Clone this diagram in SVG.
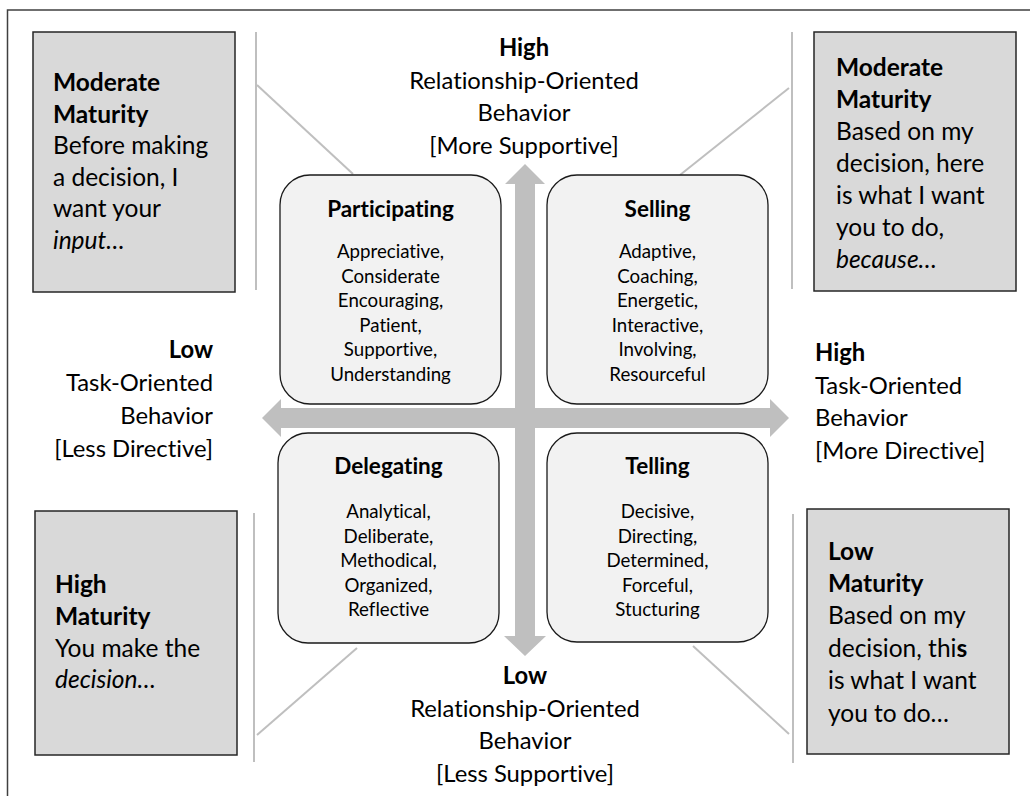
<svg xmlns="http://www.w3.org/2000/svg" width="1030" height="796" viewBox="0 0 1030 796">
<style>
text{font-family:Lato,"Liberation Sans",sans-serif;fill:#000;font-variant-ligatures:none;font-feature-settings:"liga" 0,"clig" 0}
.corner{font-size:24.5px}
.lbl{font-size:23.8px}
.qt{font-size:22.5px;font-weight:bold;text-anchor:middle}
.qb{font-size:18.7px;text-anchor:middle}
.b{font-weight:bold}
.i{font-style:italic}
.cbox{fill:#d9d9d9;stroke:#262626;stroke-width:1.5}
.qbox{fill:#f2f2f2;stroke:#1a1a1a;stroke-width:1.3}
.ln{stroke:#bfbfbf;stroke-width:2;fill:none}
.arr{fill:#bfbfbf;stroke:none}
</style>
<rect x="7.5" y="10" width="1040" height="800" fill="#fff" stroke="#404040" stroke-width="1.5"/>

<g id="connectors">
<line class="ln" x1="256" y1="32" x2="256" y2="290"/>
<line class="ln" x1="257" y1="85" x2="353" y2="174"/>
<line class="ln" x1="792" y1="32" x2="792" y2="289"/>
<line class="ln" x1="789" y1="88" x2="680" y2="175"/>
<line class="ln" x1="254" y1="513" x2="254" y2="762"/>
<line class="ln" x1="257" y1="735" x2="357" y2="648"/>
<line class="ln" x1="793" y1="514" x2="793" y2="763"/>
<line class="ln" x1="693" y1="646" x2="789" y2="734"/>
<polygon class="arr" points="525,164 545,184 535,184 535,636 546,636 525,656 504,636 515,636 515,184 505,184"/>
<polygon class="arr" points="262,418 281,399 281,408 770,408 770,399 789,418 770,437 770,428 281,428 281,437"/>
</g>

<g id="corner-tl">
<rect class="cbox" x="33" y="32" width="202" height="260"/>
<text class="corner" x="53"><tspan class="b" y="91">Moderate</tspan><tspan class="b" x="53" y="122.5">Maturity</tspan><tspan x="53" y="154">Before making</tspan><tspan x="53" y="185.5">a decision, I</tspan><tspan x="53" y="217">want your</tspan><tspan class="i" x="53" y="248.5">input…</tspan></text>
</g>

<g id="corner-tr">
<rect class="cbox" x="814" y="32" width="202" height="259"/>
<text class="corner" x="836"><tspan class="b" y="76">Moderate</tspan><tspan class="b" x="836" y="108">Maturity</tspan><tspan x="836" y="140">Based on my</tspan><tspan x="836" y="172">decision, here</tspan><tspan x="836" y="204">is what I want</tspan><tspan x="836" y="236">you to do,</tspan><tspan class="i" x="836" y="268">because…</tspan></text>
</g>

<g id="corner-bl">
<rect class="cbox" x="35" y="511" width="202" height="244"/>
<text class="corner" x="55"><tspan class="b" y="593">High</tspan><tspan class="b" x="55" y="625">Maturity</tspan><tspan x="55" y="657">You make the</tspan><tspan class="i" x="55" y="688">decision…</tspan></text>
</g>

<g id="corner-br">
<rect class="cbox" x="807" y="509" width="202" height="245"/>
<text class="corner" x="828"><tspan class="b" y="560">Low</tspan><tspan class="b" x="828" y="592">Maturity</tspan><tspan x="828" y="624">Based on my</tspan><tspan x="828" y="656.5">decision, thi</tspan><tspan class="b">s</tspan><tspan x="828" y="689">is what I want</tspan><tspan x="828" y="721.5">you to do…</tspan></text>
</g>

<g id="label-top">
<text class="lbl" text-anchor="middle" x="524"><tspan class="b" y="56">High</tspan><tspan x="524" y="88.5">Relationship-Oriented</tspan><tspan x="524" y="121">Behavior</tspan><tspan x="524" y="153.5">[More Supportive]</tspan></text>
</g>
<g id="label-bottom">
<text class="lbl" text-anchor="middle" x="525"><tspan class="b" y="684">Low</tspan><tspan x="525" y="716.5">Relationship-Oriented</tspan><tspan x="525" y="749">Behavior</tspan><tspan x="525" y="781.5">[Less Supportive]</tspan></text>
</g>
<g id="label-left">
<text class="lbl" text-anchor="end" x="213"><tspan class="b" y="358">Low</tspan><tspan x="213" y="391">Task-Oriented</tspan><tspan x="213" y="424">Behavior</tspan><tspan x="213" y="457">[Less Directive]</tspan></text>
</g>
<g id="label-right">
<text class="lbl" x="815"><tspan class="b" y="361">High</tspan><tspan x="815" y="393.5">Task-Oriented</tspan><tspan x="815" y="426">Behavior</tspan><tspan x="815" y="458.5">[More Directive]</tspan></text>
</g>

<g id="participating">
<rect class="qbox" x="280" y="175" width="221" height="229" rx="30"/>
<text class="qt" x="390.5" y="217">Participating</text>
<text class="qb" x="390.5"><tspan y="258">Appreciative,</tspan><tspan x="390.5" y="282.5">Considerate</tspan><tspan x="390.5" y="307">Encouraging,</tspan><tspan x="390.5" y="331.5">Patient,</tspan><tspan x="390.5" y="356">Supportive,</tspan><tspan x="390.5" y="380.5">Understanding</tspan></text>
</g>
<g id="selling">
<rect class="qbox" x="547" y="175" width="221" height="229" rx="30"/>
<text class="qt" x="657.5" y="217">Selling</text>
<text class="qb" x="657.5"><tspan y="258">Adaptive,</tspan><tspan x="657.5" y="282.5">Coaching,</tspan><tspan x="657.5" y="307">Energetic,</tspan><tspan x="657.5" y="331.5">Interactive,</tspan><tspan x="657.5" y="356">Involving,</tspan><tspan x="657.5" y="380.5">Resourceful</tspan></text>
</g>
<g id="delegating">
<rect class="qbox" x="278" y="433" width="221" height="210" rx="30"/>
<text class="qt" x="388.5" y="474">Delegating</text>
<text class="qb" x="388.5"><tspan y="518">Analytical,</tspan><tspan x="388.5" y="542.5">Deliberate,</tspan><tspan x="388.5" y="567">Methodical,</tspan><tspan x="388.5" y="591.5">Organized,</tspan><tspan x="388.5" y="616">Reflective</tspan></text>
</g>
<g id="telling">
<rect class="qbox" x="547" y="433" width="221" height="209" rx="30"/>
<text class="qt" x="657.5" y="474">Telling</text>
<text class="qb" x="657.5"><tspan y="518">Decisive,</tspan><tspan x="657.5" y="542.5">Directing,</tspan><tspan x="657.5" y="567">Determined,</tspan><tspan x="657.5" y="591.5">Forceful,</tspan><tspan x="657.5" y="616">Stucturing</tspan></text>
</g>
</svg>
